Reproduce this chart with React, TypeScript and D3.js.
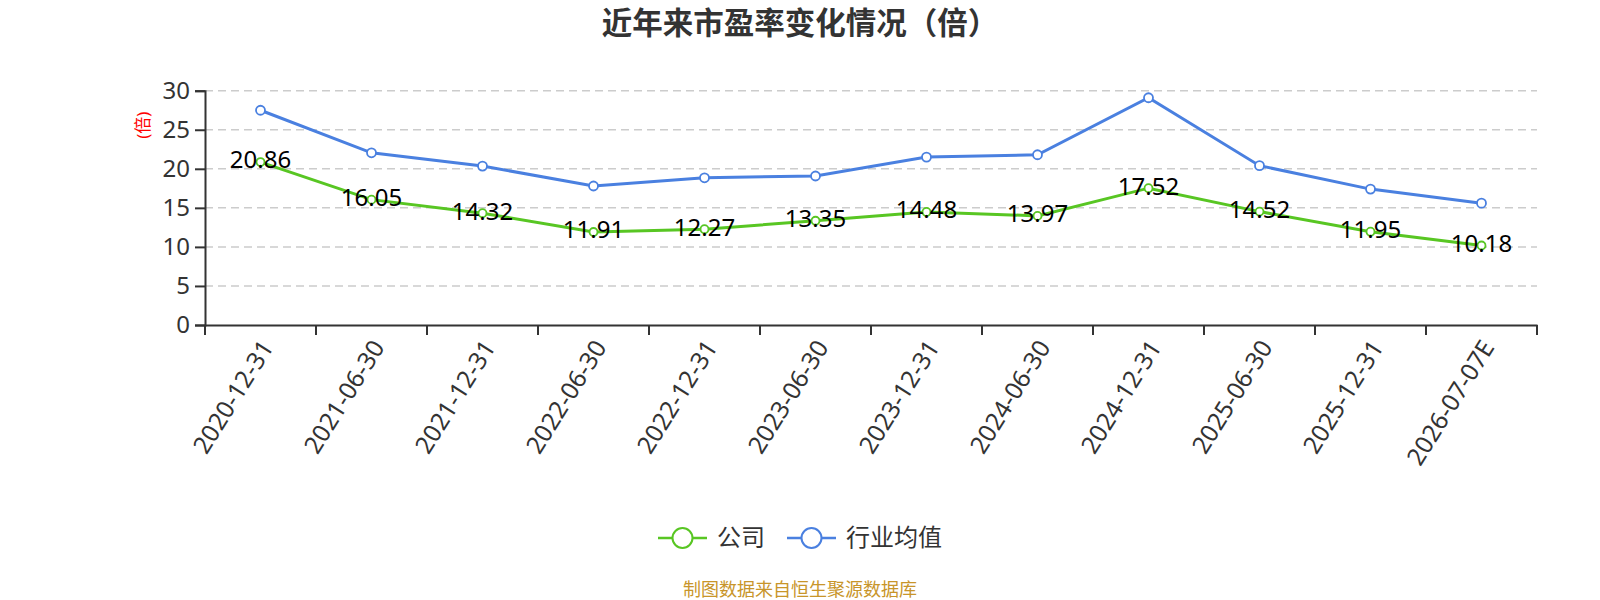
import * as d3 from 'd3'
import { useEffect, useRef } from 'react'

const WIDTH = 1600
const HEIGHT = 600
const MARGIN_LEFT = 205
const MARGIN_RIGHT = 63
const MARGIN_TOP = 90.7
const MARGIN_BOTTOM = 275

const FONT = '"Noto Sans", "Noto Sans CJK SC", sans-serif'
const GREEN = '#58c623'
const BLUE = '#4a80e0'

const categories = [
  '2020-12-31',
  '2021-06-30',
  '2021-12-31',
  '2022-06-30',
  '2022-12-31',
  '2023-06-30',
  '2023-12-31',
  '2024-06-30',
  '2024-12-31',
  '2025-06-30',
  '2025-12-31',
  '2026-07-07E',
]
const companyPE = [20.86, 16.05, 14.32, 11.91, 12.27, 13.35, 14.48, 13.97, 17.52, 14.52, 11.95, 10.18]
const industryPE = [27.5, 22.05, 20.35, 17.8, 18.85, 19.08, 21.5, 21.8, 29.1, 20.4, 17.4, 15.6]
const yTicks = [0, 5, 10, 15, 20, 25, 30]
const seriesNames = ['公司', '行业均值']

function drawChart(node: SVGSVGElement) {
  const svg = d3.select(node)
  svg.selectAll('*').remove()

  const x = d3
    .scaleBand<string>()
    .domain(categories)
    .range([MARGIN_LEFT, WIDTH - MARGIN_RIGHT])
  const y = d3
    .scaleLinear()
    .domain([0, 30])
    .range([HEIGHT - MARGIN_BOTTOM, MARGIN_TOP])
  const cx = (d: string) => x(d)! + x.bandwidth() / 2

  // title
  svg
    .append('text')
    .attr('x', 800)
    .attr('y', 34)
    .attr('text-anchor', 'middle')
    .attr('font-size', 30.5)
    .attr('font-weight', 'bold')
    .attr('fill', '#333')
    .text('近年来市盈率变化情况（倍）')

  // grid
  svg
    .append('g')
    .selectAll('line')
    .data(yTicks.filter((t) => t > 0))
    .join('line')
    .attr('x1', MARGIN_LEFT)
    .attr('x2', WIDTH - MARGIN_RIGHT)
    .attr('y1', (d) => y(d))
    .attr('y2', (d) => y(d))
    .attr('stroke', '#ccc')
    .attr('stroke-width', 1.5)
    .attr('stroke-dasharray', '8,5')

  // y axis
  const yAxis = svg
    .append('g')
    .attr('transform', `translate(${MARGIN_LEFT},0)`)
    .call(d3.axisLeft(y).tickValues(yTicks).tickSize(10).tickPadding(5).tickFormat(d3.format('d')))
  yAxis.select('.domain').attr('stroke', '#333').attr('stroke-width', 2)
  yAxis.selectAll('.tick line').attr('stroke', '#333').attr('stroke-width', 2)
  yAxis
    .selectAll('.tick text')
    .attr('font-size', 24)
    .attr('font-family', FONT)
    .attr('fill', '#333')

  svg
    .append('text')
    .attr('transform', `translate(149,${(y(25) + y(20)) / 2 - 24}) rotate(-90)`)
    .attr('text-anchor', 'middle')
    .attr('font-size', 17)
    .attr('fill', 'red')
    .text('(倍)')

  // x axis
  const xAxis = svg
    .append('g')
    .attr('transform', `translate(0,${y(0)})`)
    .call(d3.axisBottom(x).tickSize(0).tickSizeOuter(0))
  xAxis.select('.domain').attr('stroke', '#333').attr('stroke-width', 2)
  xAxis
    .selectAll('.tick text')
    .attr('font-size', 24.5)
    .attr('font-family', FONT)
    .attr('fill', '#333')
    .attr('text-anchor', 'end')
    .attr('transform', 'translate(4,16) rotate(-58)')
    .attr('dy', '0.35em')
  svg
    .append('g')
    .selectAll('line')
    .data([...categories.map((c) => x(c)!), WIDTH - MARGIN_RIGHT])
    .join('line')
    .attr('x1', (d) => d)
    .attr('x2', (d) => d)
    .attr('y1', y(0))
    .attr('y2', y(0) + 10)
    .attr('stroke', '#333')
    .attr('stroke-width', 2)

  const line = d3
    .line<number>()
    .x((_, i) => cx(categories[i]))
    .y((d) => y(d))

  const series = [
    { values: industryPE, color: BLUE, r: 4.5 },
    { values: companyPE, color: GREEN, r: 4 },
  ]
  series.forEach((s) => {
    svg
      .append('path')
      .attr('d', line(s.values))
      .attr('fill', 'none')
      .attr('stroke', s.color)
      .attr('stroke-width', 3)
    svg
      .append('g')
      .selectAll('circle')
      .data(s.values)
      .join('circle')
      .attr('cx', (_, i) => cx(categories[i]))
      .attr('cy', (d) => y(d))
      .attr('r', s.r)
      .attr('fill', '#fff')
      .attr('stroke', s.color)
      .attr('stroke-width', 1.8)
  })

  // data labels for company
  svg
    .append('g')
    .selectAll('text')
    .data(companyPE)
    .join('text')
    .attr('x', (_, i) => cx(categories[i]))
    .attr('y', (d) => y(d) - 2)
    .attr('dy', '0.35em')
    .attr('text-anchor', 'middle')
    .attr('font-size', 24)
    .attr('font-family', FONT)
    .attr('fill', '#000')
    .text((d) => d.toFixed(2))

  // legend
  const legend = svg.append('g').attr('transform', 'translate(658,538)')
  const items = [
    { name: seriesNames[0], color: GREEN, x: 0 },
    { name: seriesNames[1], color: BLUE, x: 129 },
  ]
  items.forEach((it) => {
    const g = legend.append('g').attr('transform', `translate(${it.x},0)`)
    g.append('line')
      .attr('x1', 0)
      .attr('x2', 49)
      .attr('stroke', it.color)
      .attr('stroke-width', 2.5)
    g.append('circle')
      .attr('cx', 24.5)
      .attr('r', 10)
      .attr('fill', '#fff')
      .attr('stroke', it.color)
      .attr('stroke-width', 2)
    g.append('text')
      .attr('x', 59)
      .attr('dy', '0.35em')
      .attr('font-size', 24)
      .attr('fill', '#333')
      .text(it.name)
  })

  // source
  svg
    .append('text')
    .attr('x', 800)
    .attr('y', 596)
    .attr('text-anchor', 'middle')
    .attr('font-size', 18)
    .attr('fill', '#c8952a')
    .text('制图数据来自恒生聚源数据库')
}

export default function App() {
  const ref = useRef<SVGSVGElement>(null)
  useEffect(() => {
    document.body.style.margin = '0'
    if (ref.current) drawChart(ref.current)
  }, [])
  return (
    <svg
      ref={ref}
      width={WIDTH}
      height={HEIGHT}
      viewBox={`0 0 ${WIDTH} ${HEIGHT}`}
      style={{ display: 'block', fontFamily: FONT, background: '#fff' }}
    />
  )
}
